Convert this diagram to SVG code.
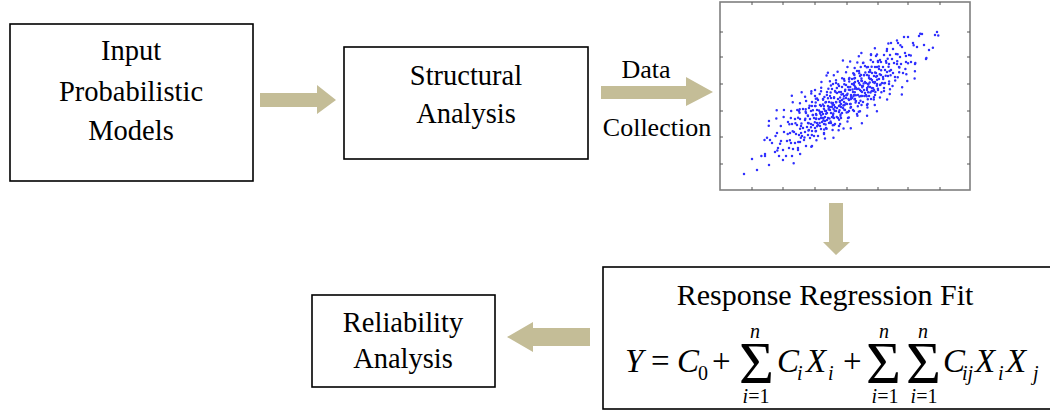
<svg xmlns="http://www.w3.org/2000/svg" xmlns:xlink="http://www.w3.org/1999/xlink" width="1050" height="412" viewBox="0 0 1050 412">
<style>
.box{fill:#fff;stroke:#000;stroke-width:1.6}
.t{font-family:"Liberation Serif","Times New Roman",serif;font-size:28.5px;fill:#000;text-anchor:middle}
.lbl{font-size:26px}
.f{font-family:"Liberation Serif","Times New Roman",serif;fill:#000}
.m{font-size:33px}
.it{font-style:italic}
.s{font-size:20px}
.sig{font-size:60px}
.arr{fill:#C4BD97}
.frame{fill:#fff;stroke:#7f7f7f;stroke-width:1.6}
.tick{stroke:#555;stroke-width:1}
.dots{fill:none;stroke:#3030ff;stroke-width:2.5;stroke-linecap:round}
</style>
<rect width="1050" height="412" fill="#fff"/>
<g id="connectors">
<polygon class="arr" points="260,93 317,93 317,85 336,100 317,114 317,107 260,107"/>
<polygon class="arr" points="601,86 686,86 686,77 713,92 686,106 686,99 601,99"/>
<polygon class="arr" points="829,203 843,203 843,242 850,242 836,255 823,242 829,242"/>
<polygon class="arr" points="590,328 533,328 533,322 507,337 533,352 533,346 590,346"/>
<text class="t lbl" x="646" y="78">Data</text>
<text class="t lbl" x="657" y="136">Collection</text>
</g>
<g id="n-input">
<rect class="box" x="10" y="24" width="243" height="157"/>
<text class="t" x="131" y="60">Input</text>
<text class="t" x="131" y="101">Probabilistic</text>
<text class="t" x="131" y="140">Models</text>
</g>
<g id="n-structural">
<rect class="box" x="344" y="47" width="244" height="112"/>
<text class="t" x="466" y="85">Structural</text>
<text class="t" x="466" y="123">Analysis</text>
</g>
<g id="n-scatter">
<rect class="frame" x="720" y="2" width="250" height="188"/>
<path class="tick" d="M752 2v3M783 2v3M815 2v3M847 2v3M878 2v3M908 2v3M940 2v3M752 190v-3M783 190v-3M815 190v-3M847 190v-3M878 190v-3M908 190v-3M940 190v-3M720 32h3M720 57h3M720 84h3M720 111h3M720 137h3M720 164h3M970 32h-3M970 57h-3M970 84h-3M970 111h-3M970 137h-3M970 164h-3"/>
<path id="cloud" class="dots" vector-effect="non-scaling-stroke" d="M744 174h0M752 159h0M757 170h0M765 154h0M769 165h0M772 143h0M775 152h0M777 133h0M779 156h0M781 141h0M783 150h0M784 132h0M786 156h0M787 141h0M788 122h0M789 148h0M790 133h0M770 140h0M778 148h0M791 143h0M792 124h0M793 149h0M794 132h0M795 143h0M795 119h0M796 134h0M797 125h0M798 150h0M799 135h0M800 119h0M800 142h0M801 126h0M802 136h0M803 109h0M803 128h0M804 140h0M805 120h0M805 132h0M806 113h0M806 146h0M807 127h0M808 123h0M808 135h0M808 116h0M809 130h0M809 108h0M810 138h0M810 119h0M799 111h0M792 156h0M811 124h0M811 111h0M812 131h0M812 102h0M813 125h0M813 115h0M814 136h0M814 118h0M815 128h0M815 106h0M816 119h0M816 131h0M817 110h0M817 123h0M818 100h0M818 136h0M819 119h0M820 112h0M820 126h0M820 105h0M821 118h0M821 129h0M822 112h0M822 122h0M823 99h0M823 114h0M824 124h0M824 106h0M825 117h0M826 111h0M826 128h0M826 102h0M827 113h0M827 92h0M828 118h0M828 106h0M829 123h0M829 102h0M830 110h0M830 96h0M812 146h0M815 96h0M818 125h0M821 106h0M824 134h0M827 120h0M830 107h0M816 114h0M823 118h0M825 121h0M831 113h0M831 98h0M831 123h0M832 107h0M832 89h0M833 115h0M833 103h0M834 118h0M834 98h0M835 107h0M835 91h0M835 124h0M836 102h0M836 111h0M837 93h0M837 108h0M838 118h0M838 99h0M839 106h0M839 112h0M839 86h0M840 101h0M841 107h0M841 92h0M841 118h0M842 100h0M842 87h0M843 108h0M843 94h0M844 102h0M844 79h0M845 110h0M845 91h0M846 98h0M846 85h0M847 104h0M847 95h0M848 112h0M848 87h0M849 100h0M849 79h0M850 104h0M850 90h0M851 95h0M851 107h0M852 84h0M852 98h0M853 92h0M853 110h0M854 85h0M854 95h0M855 78h0M855 99h0M856 88h0M856 101h0M857 71h0M857 89h0M858 95h0M858 81h0M859 103h0M859 83h0M860 90h0M860 76h0M861 96h0M833 84h0M839 126h0M848 118h0M854 74h0M836 83h0M857 114h0M841 104h0M844 96h0M851 99h0M834 105h0M855 82h0M842 113h0M852 79h0M832 117h0M859 71h0M849 111h0M861 91h0M861 75h0M862 96h0M862 81h0M863 86h0M863 102h0M864 75h0M864 90h0M865 82h0M865 66h0M866 95h0M866 83h0M867 75h0M867 90h0M868 84h0M868 67h0M869 96h0M869 78h0M870 87h0M870 70h0M871 79h0M871 99h0M872 73h0M872 88h0M873 62h0M873 82h0M874 76h0M874 90h0M875 67h0M875 82h0M876 73h0M876 56h0M877 84h0M877 76h0M878 62h0M878 90h0M879 69h0M879 79h0M880 60h0M880 85h0M863 63h0M867 105h0M871 55h0M875 95h0M865 93h0M869 72h0M873 91h0M877 67h0M862 86h0M872 80h0M881 75h0M881 62h0M882 83h0M883 67h0M883 77h0M884 55h0M885 70h0M885 83h0M886 61h0M887 72h0M887 49h0M888 76h0M889 64h0M889 84h0M890 55h0M891 70h0M892 59h0M893 73h0M893 49h0M894 63h0M895 77h0M896 54h0M897 64h0M898 43h0M899 67h0M900 57h0M891 43h0M884 91h0M901 64h0M902 47h0M903 73h0M905 53h0M906 62h0M908 37h0M909 55h0M911 62h0M913 43h0M915 64h0M917 47h0M919 36h0M904 37h0M924 45h0M929 50h0M935 35h0M937 32h0M922 34h0M926 59h0"/>
<use xlink:href="#cloud" href="#cloud" transform="matrix(-0.052 1.175 1.175 0.748 772.5 -968.9)"/>
</g>
<g id="n-regression">
<rect class="box" x="603" y="267" width="460" height="142"/>
<text class="t" x="825" y="305" style="font-size:30px">Response Regression Fit</text>
<text class="f m it" x="625" y="372">Y</text>
<text class="f m" x="651" y="372">=</text>
<text class="f m it" x="677" y="372">C</text>
<text class="f s" x="698" y="380">0</text>
<text class="f m" x="712" y="372">+</text>
<text class="f sig" x="739" y="383">Σ</text>
<text class="f s it" x="755" y="338" text-anchor="middle">n</text>
<text class="f s" x="756" y="403" text-anchor="middle"><tspan class="it">i</tspan>=1</text>
<text class="f m it" x="777" y="372">C</text>
<text class="f s it" x="797" y="380">i</text>
<text class="f m it" x="806" y="372">X</text>
<text class="f s it" x="828" y="380">i</text>
<text class="f m" x="843" y="372">+</text>
<text class="f sig" x="866" y="383">Σ</text>
<text class="f s it" x="884" y="338" text-anchor="middle">n</text>
<text class="f s" x="885" y="403" text-anchor="middle"><tspan class="it">i</tspan>=1</text>
<text class="f sig" x="906" y="383">Σ</text>
<text class="f s it" x="923" y="338" text-anchor="middle">n</text>
<text class="f s" x="924" y="403" text-anchor="middle"><tspan class="it">i</tspan>=1</text>
<text class="f m it" x="943" y="372">C</text>
<text class="f s it" x="962" y="380">ij</text>
<text class="f m it" x="975" y="372">X</text>
<text class="f s it" x="998" y="380">i</text>
<text class="f m it" x="1006" y="372">X</text>
<text class="f s it" x="1033" y="380">j</text>
</g>
<g id="n-reliability">
<rect class="box" x="312" y="295" width="183" height="92"/>
<text class="t" x="403" y="332">Reliability</text>
<text class="t" x="403" y="368">Analysis</text>
</g>
</svg>
